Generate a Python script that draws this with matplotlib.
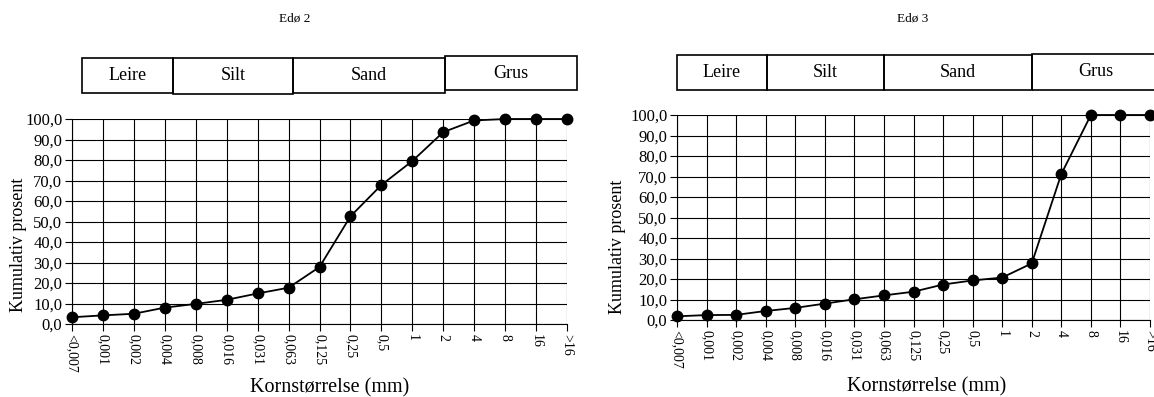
import numpy as np
import matplotlib.pyplot as plt
from matplotlib.patches import Rectangle

plt.rcParams['font.family'] = ['Liberation Serif', 'DejaVu Serif']

# grain size classes (mm)
sizes = ['<0,007', '0,001', '0,002', '0,004', '0,008', '0,016', '0,031', '0,063',
         '0,125', '0,25', '0,5', '1', '2', '4', '8', '16', '>16']
# cumulative percent
edo2 = [3.3, 4.2, 5.0, 8.0, 9.8, 11.8, 14.9, 17.7, 27.8, 52.5, 67.8, 79.5,
        93.6, 99.3, 100.0, 100.0, 100.0]
edo3 = [1.8, 2.4, 2.5, 4.4, 5.9, 8.0, 10.1, 12.0, 13.8, 17.3, 19.3, 20.7,
        27.6, 71.2, 100.0, 100.0, 100.0]
classes = ['Leire', 'Silt', 'Sand', 'Grus']

W, H = 1154, 397
fig = plt.figure(figsize=(W / 100, H / 100), dpi=100)


def px(x0, y0, x1, y1):
    # pixel box -> figure fraction [left, bottom, width, height]
    return [x0 / W, 1 - y1 / H, (x1 - x0) / W, (y1 - y0) / H]


def panel(rect, values, title, title_x, boxes, ylab, xlab):
    ax = fig.add_axes(px(*rect))
    x = np.arange(len(sizes))
    ax.plot(x, values, color='black', lw=1.3, marker='o', ms=7.5, clip_on=False, zorder=5)
    ax.set_xlim(0, len(sizes) - 1)
    ax.set_ylim(0, 100)
    ax.set_xticks(x)
    ax.set_xticklabels(sizes, rotation=270, fontsize=10)
    ax.set_yticks(np.arange(0, 101, 10))
    ax.yaxis.set_major_formatter(plt.FuncFormatter(lambda v, p: ('%.1f' % v).replace('.', ',')))
    ax.tick_params(axis='y', labelsize=12)
    ax.grid(True, color='black', lw=0.8)
    ax.tick_params(length=5, width=0.8, color='black', pad=2)
    for s in ['top', 'right']:
        ax.spines[s].set_visible(False)
    for s in ['left', 'bottom']:
        ax.spines[s].set_linewidth(0.8)
    fig.text(xlab[0] / W, 1 - xlab[1] / H, 'Kornstørrelse (mm)', ha='center', va='center',
             fontsize=14.5)
    fig.text(ylab[0] / W, 1 - ylab[1] / H, 'Kumulativ prosent', ha='center', va='center',
             rotation=90, fontsize=13)
    fig.text(title_x / W, 1 - 18 / H, title, ha='center', va='center', fontsize=9.5)
    for name, (x0, y0, x1, y1) in zip(classes, boxes):
        fig.add_artist(Rectangle((x0 / W, 1 - y1 / H), (x1 - x0) / W, (y1 - y0) / H,
                                 transform=fig.transFigure, fill=False, ec='black', lw=1.2))
        fig.text((x0 + x1) / 2 / W, 1 - (y0 + y1) / 2 / H, name,
                 ha='center', va='center', fontsize=13)
    return ax


panel((72, 119, 567, 324), edo2, 'Edø 2', 295,
      [(82, 58, 173, 93), (173, 58, 293, 94), (293, 58, 445, 93), (445, 56, 577, 90)],
      (19, 245), (330, 388))
panel((677, 115, 1150, 320), edo3, 'Edø 3', 913,
      [(677, 55, 767, 90), (767, 55, 884, 90), (884, 55, 1032, 90), (1032, 54, 1160, 90)],
      (617, 247), (927, 387))

fig.savefig('out.png', dpi=100)
